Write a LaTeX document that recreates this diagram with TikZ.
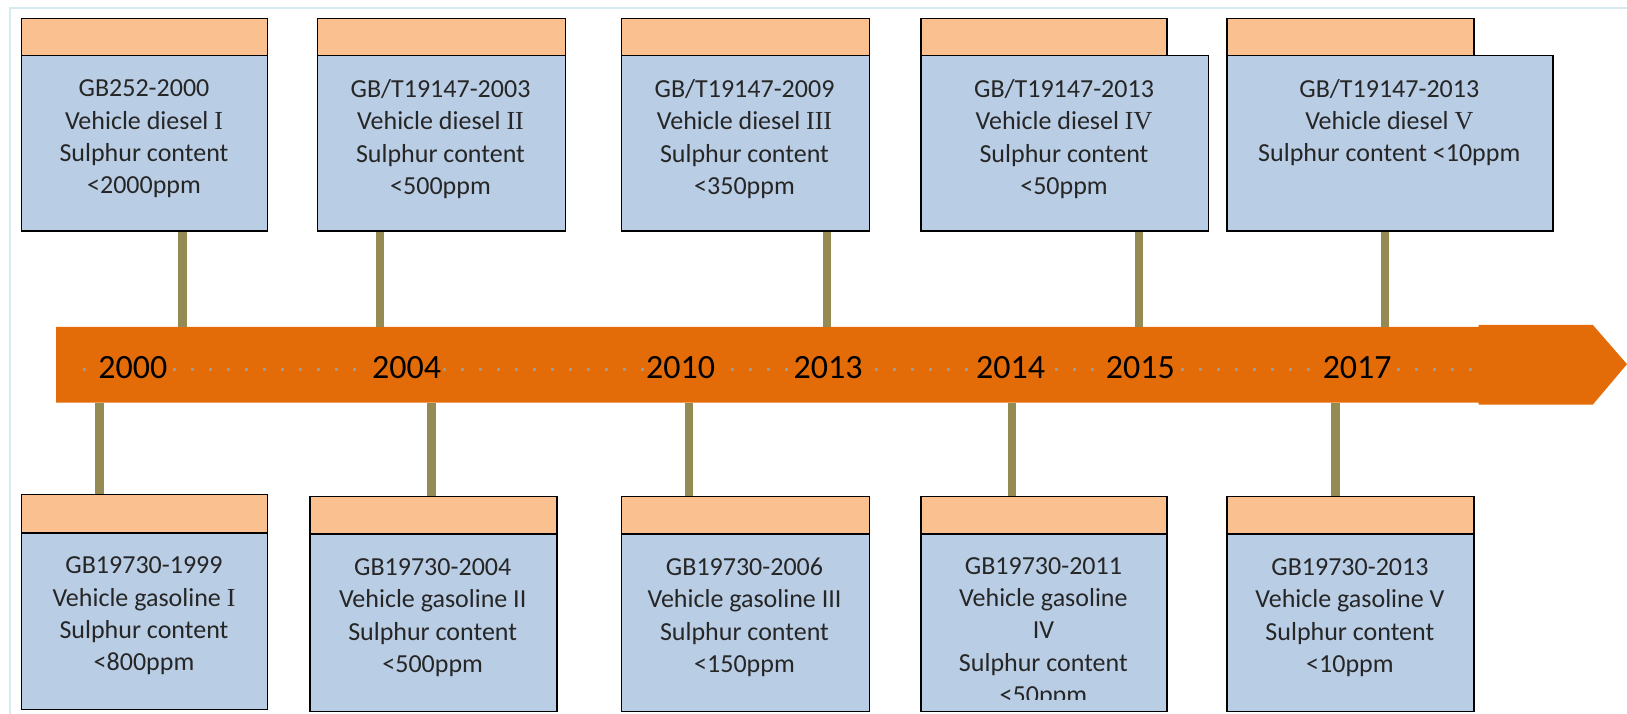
\documentclass[tikz,border=0pt]{standalone}
\usepackage{fontspec}
\setmainfont{Carlito}
\newfontfamily\romanfont{Liberation Serif}
\definecolor{arroworange}{HTML}{E36C09}
\definecolor{headorange}{HTML}{FAC090}
\definecolor{bodyblue}{HTML}{B9CDE5}
\definecolor{stemolive}{HTML}{948A54}
\definecolor{framecyan}{HTML}{D5EBF0}
\definecolor{dotgray}{HTML}{9A9A9A}
\tikzset{
  headbox/.style={draw=black, line width=1.3pt, fill=headorange, anchor=north west, inner sep=0pt},
  bodybox/.style={draw=black, line width=1.3pt, fill=bodyblue, anchor=north west, inner sep=0pt},
  boxtext/.style={align=center, inner sep=0pt, font=\fontsize{26}{32.4}\selectfont, text=black!85},
  yearlabel/.style={font=\fontsize{34}{40}\selectfont, fill=arroworange, inner xsep=2pt, inner ysep=0pt, text=black},
  stemline/.style={draw=stemolive, line width=8.3pt},
}
\begin{document}
\begin{tikzpicture}[x=1pt, y=-1pt]
\useasboundingbox (0,0) rectangle (1627,714);
% outer frame
\begin{scope}
\clip (0,0) rectangle (1627,714);
\draw[framecyan, line width=2pt] (10.4,730) -- (10.4,8.3) -- (1640,8.3);
\end{scope}

% ---- arrow
\coordinate (aL1) at (56,326.8);
\coordinate (aL2) at (56,402.6);
\fill[arroworange] (aL1) -- (1478.6,326.8) -- (1478.6,324.8) -- (1592.7,324.8) -- (1627,364.2)
   -- (1592.7,404.7) -- (1478.6,404.7) -- (1478.6,402.6) -- (aL2) -- cycle;
\coordinate (dotA) at (83,369);
\coordinate (dotB) at (1480,369);
\draw[dotgray, line width=3pt, dash pattern=on 3pt off 15pt] (dotA) -- (dotB);

\node[yearlabel] (y2000) at (132.8,367.3) {2000};
\node[yearlabel] (y2004) at (406.7,367.3) {2004};
\node[yearlabel] (y2010) at (680.7,367.3) {2010};
\node[yearlabel] (y2013) at (828,367.3) {2013};
\node[yearlabel] (y2014) at (1010.6,367.3) {2014};
\node[yearlabel] (y2015) at (1140.3,367.3) {2015};
\node[yearlabel] (y2017) at (1357.2,367.3) {2017};

% ---- top boxes
\node[bodybox, minimum width=246pt, minimum height=175.3pt] (tb1) at (21,55) {};
\node[headbox, minimum width=246pt, minimum height=37.4pt] (th1) at (21,17.6) {};
\node[bodybox, minimum width=248pt, minimum height=175.3pt] (tb2) at (316.5,55) {};
\node[headbox, minimum width=248pt, minimum height=37.4pt] (th2) at (316.5,17.6) {};
\node[bodybox, minimum width=248pt, minimum height=175.3pt] (tb3) at (620.5,55) {};
\node[headbox, minimum width=248pt, minimum height=37.4pt] (th3) at (620.5,17.6) {};
\node[bodybox, minimum width=287.3pt, minimum height=175.3pt] (tb4) at (920.4,55) {};
\node[headbox, minimum width=245.9pt, minimum height=37.4pt] (th4) at (920.4,17.6) {};
\node[bodybox, minimum width=325.8pt, minimum height=175.3pt] (tb5) at (1226.4,55) {};
\node[headbox, minimum width=247pt, minimum height=37.4pt] (th5) at (1226.4,17.6) {};

\node[boxtext] (tt1) at (144,139) {GB252-2000\\Vehicle diesel {\romanfont I}\\Sulphur content\\<2000ppm};
\node[boxtext] (tt2) at (440.5,139) {GB/T19147-2003\\Vehicle diesel {\romanfont II}\\Sulphur content\\<500ppm};
\node[boxtext] (tt3) at (744.5,139) {GB/T19147-2009\\Vehicle diesel {\romanfont III}\\Sulphur content\\<350ppm};
\node[boxtext] (tt4) at (1064,139) {GB/T19147-2013\\Vehicle diesel {\romanfont IV}\\Sulphur content\\<50ppm};
\node[boxtext] (tt5) at (1389.3,122.5) {GB/T19147-2013\\Vehicle diesel {\romanfont V}\\Sulphur content <10ppm};

% ---- bottom boxes
\node[bodybox, minimum width=246pt, minimum height=176.4pt] (bb1) at (21,532.3) {};
\node[headbox, minimum width=246pt, minimum height=38.4pt] (bh1) at (21,493.9) {};
\node[bodybox, minimum width=247pt, minimum height=177.5pt] (bb2) at (309.2,533.3) {};
\node[headbox, minimum width=247pt, minimum height=37.3pt] (bh2) at (309.2,496) {};
\node[bodybox, minimum width=248pt, minimum height=177.5pt] (bb3) at (620.5,533.3) {};
\node[headbox, minimum width=248pt, minimum height=37.3pt] (bh3) at (620.5,496) {};
\node[bodybox, minimum width=245.9pt, minimum height=177.5pt] (bb4) at (920.4,533.3) {};
\node[headbox, minimum width=245.9pt, minimum height=37.3pt] (bh4) at (920.4,496) {};
\node[bodybox, minimum width=247pt, minimum height=177.5pt] (bb5) at (1226.4,533.3) {};
\node[headbox, minimum width=247pt, minimum height=37.3pt] (bh5) at (1226.4,496) {};

\node[boxtext] (bt1) at (144,616) {GB19730-1999\\Vehicle gasoline {\romanfont I}\\Sulphur content\\<800ppm};
\node[boxtext] (bt2) at (432.7,617.5) {GB19730-2004\\Vehicle gasoline II\\Sulphur content\\<500ppm};
\node[boxtext] (bt3) at (744.5,617.5) {GB19730-2006\\Vehicle gasoline III\\Sulphur content\\<150ppm};
\begin{scope}
\clip (921,534) rectangle (1165.5,699);
\node[boxtext] (bt4) at (1043.4,632.5) {GB19730-2011\\Vehicle gasoline\\IV\\Sulphur content\\<50ppm};
\end{scope}
\node[boxtext] (bt5) at (1349.9,617.5) {GB19730-2013\\Vehicle gasoline V\\Sulphur content\\<10ppm};

% ---- stems (top)
\coordinate (st1) at (182.6,326.8);
\coordinate (st2) at (379.8,326.8);
\coordinate (st3) at (827,326.8);
\coordinate (st4) at (1139.3,326.8);
\coordinate (st5) at (1385.2,326.8);
\draw[stemline] (st1 |- tb1.south) -- (st1);
\draw[stemline] (st2 |- tb2.south) -- (st2);
\draw[stemline] (st3 |- tb3.south) -- (st3);
\draw[stemline] (st4 |- tb4.south) -- (st4);
\draw[stemline] (st5 |- tb5.south) -- (st5);
% ---- stems (bottom)
\coordinate (sb1) at (99.6,402.6);
\coordinate (sb2) at (431.6,402.6);
\coordinate (sb3) at (689,402.6);
\coordinate (sb4) at (1011.7,402.6);
\coordinate (sb5) at (1335.4,402.6);
\draw[stemline] (sb1) -- (sb1 |- bh1.north);
\draw[stemline] (sb2) -- (sb2 |- bh2.north);
\draw[stemline] (sb3) -- (sb3 |- bh3.north);
\draw[stemline] (sb4) -- (sb4 |- bh4.north);
\draw[stemline] (sb5) -- (sb5 |- bh5.north);
\end{tikzpicture}
\end{document}
